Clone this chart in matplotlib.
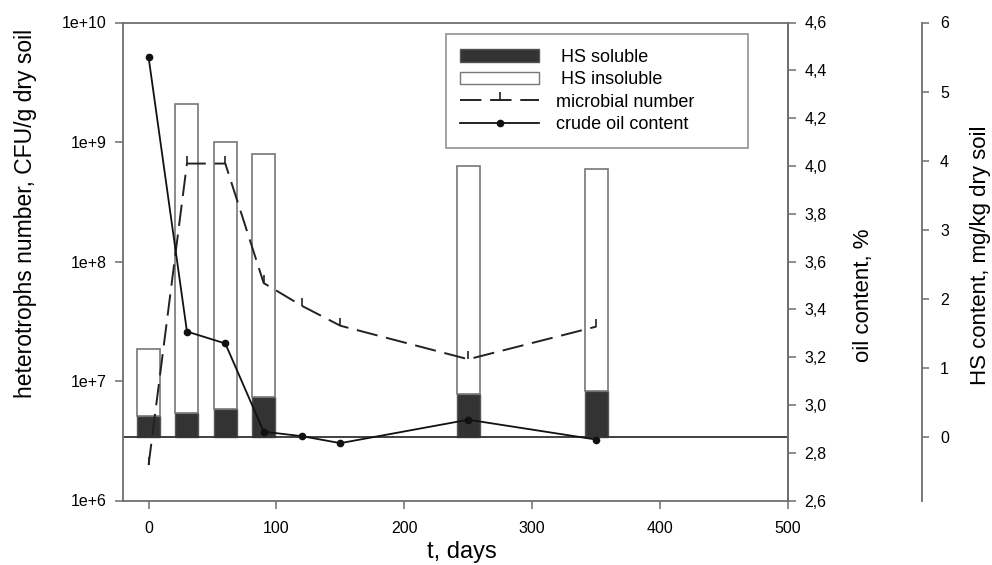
import numpy as np
import matplotlib
matplotlib.use('Agg')
import matplotlib.pyplot as plt
from matplotlib.patches import Patch
from matplotlib.lines import Line2D
from matplotlib.ticker import FixedLocator, FuncFormatter, NullLocator

plt.rcParams['font.family'] = ['Liberation Sans', 'DejaVu Sans']

# dados
dias_barras = [0, 30, 60, 90, 250, 350]
hs_soluvel = [0.31, 0.35, 0.41, 0.58, 0.63, 0.675]
hs_total = [1.27, 4.82, 4.27, 4.10, 3.93, 3.88]
hs_insoluvel = [t - s for t, s in zip(hs_total, hs_soluvel)]

dias = [0, 30, 60, 90, 120, 150, 250, 350]
microbios = [1.98e6, 6.6e8, 6.6e8, 6.6e7, 4.25e7, 2.9e7, 1.52e7, 2.85e7]
oleo = [4.455, 3.307, 3.257, 2.888, 2.869, 2.840, 2.938, 2.855]

CINZA = '#6e6e6e'
ESCURO = '#333333'

fig = plt.figure(figsize=(9.92, 5.65), dpi=100)
ax = fig.add_axes([123/992, 1 - 500.5/565, 665/992, 478/565])
ax_oleo = ax.twinx()
ax_hs = ax.twinx()

# ordem de desenho: barras atras, linhas na frente
ax_hs.set_zorder(0)
ax.set_zorder(1)
ax_oleo.set_zorder(2)
ax.patch.set_visible(False)
ax_oleo.patch.set_visible(False)

# barras HS
ax_hs.bar(dias_barras, hs_soluvel, width=18, color=ESCURO, edgecolor='#555555', linewidth=1.0)
ax_hs.bar(dias_barras, hs_insoluvel, width=18, bottom=hs_soluvel, color='white',
          edgecolor='#777777', linewidth=1.2)
ax_hs.axhline(0, color='#333333', lw=1.3)
ax_hs.set_ylim(-0.915, 6)
ax_hs.set_yticks([0, 1, 2, 3, 4, 5, 6])
for s in ['left', 'top', 'bottom']:
    ax_hs.spines[s].set_visible(False)
ax_hs.spines['right'].set_position(('outward', 96.5))
ax_hs.spines['right'].set_color(CINZA)
ax_hs.spines['right'].set_linewidth(1.3)
ax_hs.tick_params(axis='y', direction='out', length=5, width=1.1, color=CINZA,
                  labelsize=11.5, pad=8)
ax_hs.set_ylabel('HS content, mg/kg dry soil', fontsize=16)
ax_hs.yaxis.set_label_coords(1.273, 0.514)

# numero de microrganismos (eixo log)
ax.plot(dias, microbios, color='#222222', lw=1.4, dashes=(11, 4.5),
        marker=2, markersize=6, markeredgewidth=1.2)
ax.set_yscale('log')
ax.set_ylim(1e6, 1e10)
ax.set_xlim(-20, 500)
ax.yaxis.set_major_locator(FixedLocator([1e6, 1e7, 1e8, 1e9, 1e10]))
ax.yaxis.set_minor_locator(NullLocator())
ax.yaxis.set_major_formatter(FuncFormatter(lambda v, p: f'1e+{int(round(np.log10(v)))}'))
ax.set_xticks([0, 100, 200, 300, 400, 500])
for s in ax.spines.values():
    s.set_color(CINZA)
    s.set_linewidth(1.3)
ax.tick_params(axis='both', direction='out', length=6, width=1.1, color=CINZA,
               labelsize=11.5)
ax.tick_params(axis='x', pad=9)
ax.tick_params(axis='y', pad=6)
ax.set_ylabel('heterotrophs number, CFU/g dry soil', fontsize=16.5)
ax.yaxis.set_label_coords(-0.13, 0.6)
ax.set_xlabel('t, days', fontsize=17)
ax.xaxis.set_label_coords(0.51, -0.085)

# teor de oleo
ax_oleo.plot(dias, oleo, color='#111111', lw=1.3, marker='o', markersize=4.5)
ax_oleo.set_ylim(2.6, 4.6)
ax_oleo.set_yticks(np.arange(2.6, 4.61, 0.2))
ax_oleo.yaxis.set_major_formatter(FuncFormatter(lambda v, p: f'{v:.1f}'.replace('.', ',')))
for s in ['left', 'top', 'bottom']:
    ax_oleo.spines[s].set_visible(False)
ax_oleo.spines['right'].set_color(CINZA)
ax_oleo.spines['right'].set_linewidth(1.3)
ax_oleo.tick_params(axis='y', direction='out', length=6, width=1.1, color=CINZA,
                    labelsize=11.5, pad=6)
ax_oleo.set_ylabel('oil content, %', fontsize=16)
ax_oleo.yaxis.set_label_coords(1.098, 0.43)

# legenda
handles = [
    Patch(facecolor=ESCURO, edgecolor='#555555'),
    Patch(facecolor='white', edgecolor='#777777'),
    Line2D([], [], color='#222222', lw=1.4, dashes=(11, 4.5), marker=2,
           markersize=6, markeredgewidth=1.2),
    Line2D([], [], color='#111111', lw=1.3, marker='o', markersize=4.5),
]
labels = [' HS soluble', ' HS insoluble', 'microbial number        ', 'crude oil content']
leg = ax_oleo.legend(handles, labels, loc='upper left', bbox_to_anchor=(0.485, 0.975),
                     fontsize=13, frameon=True, fancybox=False, edgecolor='#777777',
                     handlelength=4.4, handleheight=0.7, labelspacing=0.3,
                     borderpad=0.8, handletextpad=0.9, borderaxespad=0)
leg.get_frame().set_linewidth(1.2)

fig.savefig('out.png', dpi=100)
